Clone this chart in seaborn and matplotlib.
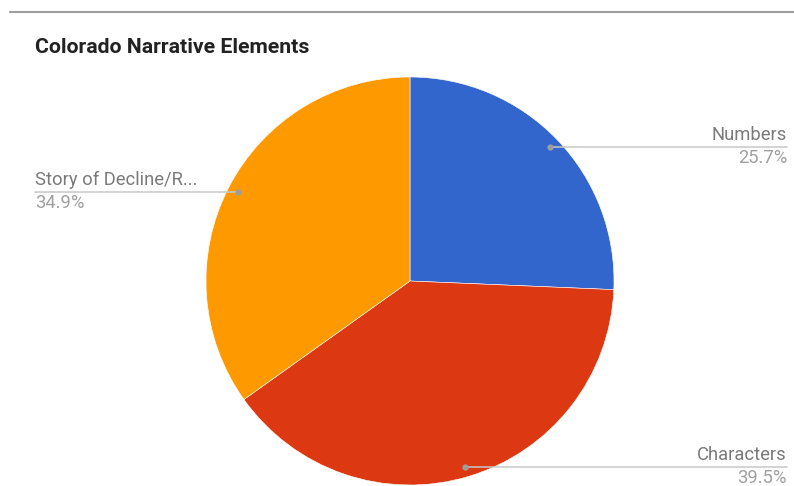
import numpy as np
import seaborn as sns
import matplotlib.pyplot as plt
from matplotlib.lines import Line2D

# Daten
categories = ["Numbers", "Characters", "Story of Decline/R..."]
shares = [25.7, 39.5, 34.9]
pct_labels = ["25.7%", "39.5%", "34.9%"]
colors = ["#3366cc", "#dc3912", "#ff9900"]

sns.set_theme(style="white")
plt.rcParams['font.family'] = ['Roboto', 'DejaVu Sans']

fig = plt.figure(figsize=(7.94, 4.86), dpi=100)
ax = fig.add_axes([0, 0, 1, 1])

# Pie in Pixelkoordinaten (y nach oben)
cx, cy, R = 410, 205, 204
wedges, _ = ax.pie(shares, colors=colors, startangle=90, counterclock=False,
                   center=(cx, cy), radius=R,
                   wedgeprops=dict(linewidth=0.4, edgecolor="white"))
ax.set_xlim(0, 794)
ax.set_ylim(0, 486)
ax.set_aspect("auto")
ax.axis("off")

# Beschriftungen mit Führungslinien
for w, name, pct in zip(wedges, categories, pct_labels):
    mid = np.deg2rad((w.theta1 + w.theta2) / 2)
    px = cx + 0.95 * R * np.cos(mid)
    py = cy + 0.95 * R * np.sin(mid)
    if np.cos(mid) >= 0:
        x_end, ha = 787, "right"
    else:
        x_end, ha = 35, "left"
    ax.plot([px, x_end], [py, py], color="#c8c8c8", lw=1.1, zorder=3)
    ax.plot(px, py, "o", color="#9e9e9e", ms=3.5, zorder=4)
    ax.text(x_end, py + 7, name, ha=ha, va="baseline", fontsize=13.2, color="#7a7a7a")
    ax.text(x_end, py - 16, pct, ha=ha, va="baseline", fontsize=13.2, color="#a0a0a0")

# Überschrift und Linie oben
fig.add_artist(Line2D([10 / 794, 1], [1 - 12 / 486] * 2, color="#9e9e9e", lw=1.5))
fig.text(35 / 794, 1 - 47 / 486, "Colorado Narrative Elements", fontsize=15.3,
         fontweight="bold", color="#222222", va="center", ha="left")

fig.savefig("out.png", dpi=100)
